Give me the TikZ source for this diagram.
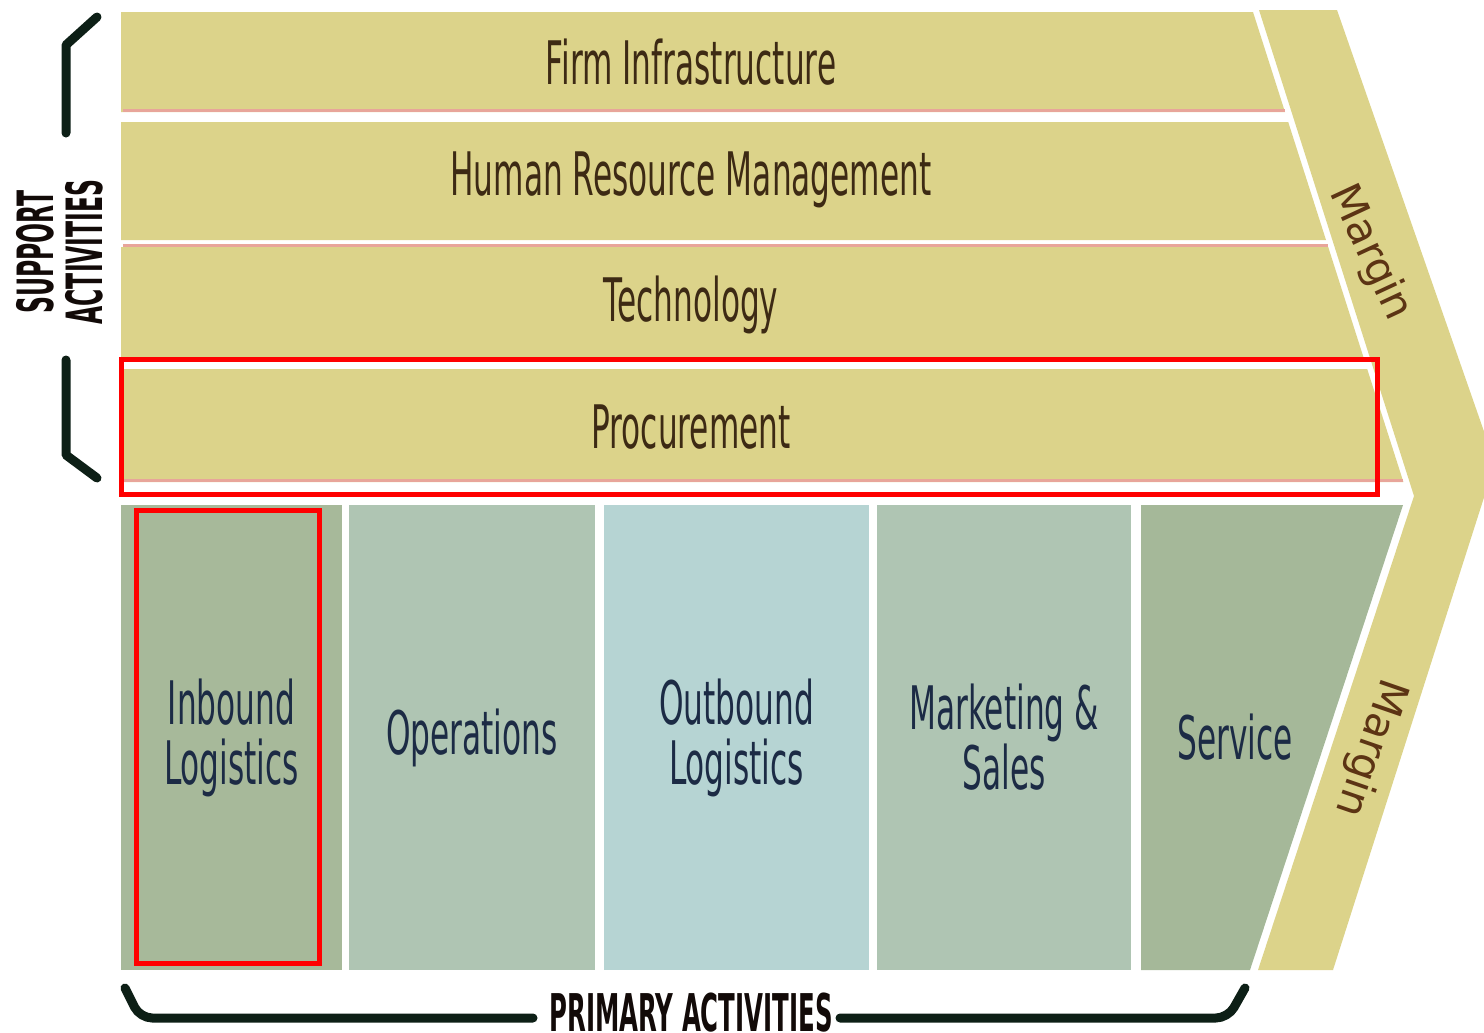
\documentclass[tikz,border=0pt]{standalone}
\usepackage{fontspec}
\setmainfont{DejaVu Sans}
\newfontfamily\condfont[FakeStretch=0.52]{DejaVu Sans}
\newfontfamily\headfont[FakeStretch=0.47]{DejaVu Sans}

\definecolor{barfill}{HTML}{DCD38A}
\definecolor{barline}{HTML}{E8A59A}
\definecolor{inbfill}{HTML}{A7B99A}
\definecolor{opfill}{HTML}{AFC5B3}
\definecolor{outfill}{HTML}{B6D4D3}
\definecolor{mktfill}{HTML}{AFC5B3}
\definecolor{svcfill}{HTML}{A5B899}
\definecolor{bartext}{HTML}{3D2A14}
\definecolor{primtext}{HTML}{1C2B45}
\definecolor{margintext}{HTML}{5C3414}
\definecolor{headink}{HTML}{120A08}
\definecolor{braceink}{HTML}{0D1F16}

\tikzset{
    suplabel/.style={anchor=base, inner sep=0pt, text=bartext,
        font=\condfont\fontsize{30}{30}\selectfont},
    primbox/.style={rectangle, inner sep=0pt, minimum height=232.5pt,
        align=center, text=primtext, font=\condfont\fontsize{30}{30}\selectfont},
    marginlabel/.style={inner sep=0pt, text=margintext,
        font=\fontsize{21}{21}\selectfont},
    headlabel/.style={inner sep=0pt, text=headink, align=center,
        font=\headfont\bfseries\fontsize{25}{24.5}\selectfont},
    bracket/.style={draw=braceink, line width=4.5pt, line cap=round, line join=round},
    hilite/.style={draw=red, line width=2.5pt},
}

\begin{document}
\begin{tikzpicture}[x=0.5pt, y=-0.5pt]
    \useasboundingbox (0,0) rectangle (1484,1033);

    \fill[barfill] (121,12) -- (1253,12) -- (1285,112) -- (121,112) -- cycle;
    \fill[barfill] (121,122) -- (1288.2,122) -- (1326,240) -- (121,240) -- cycle;
    \fill[barfill] (121,247) -- (1328.2,247) -- (1363.4,357) -- (121,357) -- cycle;
    \fill[barfill] (121,369) -- (1367.2,369) -- (1403.4,482) -- (121,482) -- cycle;
    \draw[barline, line width=1.5pt] (123,110.5) -- (1284.5,110.5);
    \draw[barline, line width=1.5pt] (123,245.5) -- (1327.5,245.5);
    \draw[barline, line width=1.5pt] (123,480.5) -- (1402.5,480.5);

    \fill[barfill] (1259,10) -- (1337,10) -- (1495,463) -- (1333,970)
        -- (1258,970) -- (1414,496) -- cycle;

    \node[suplabel] (firm) at (691,84) {Firm Infrastructure};
    \node[suplabel] (hrm) at (691,195) {Human Resource Management};
    \node[suplabel] (tech) at (691,321) {Technology};
    \node[suplabel] (proc) at (691,448) {Procurement};

    \node[primbox, fill=inbfill, minimum width=110.5pt] (inbound) at (231.5,737.5) {Inbound\\Logistics};
    \node[primbox, fill=opfill, minimum width=123pt] (ops) at (472,737.5) {Operations};
    \node[primbox, fill=outfill, minimum width=132.5pt] (outbound) at (736.5,737.5) {Outbound\\Logistics};
    \node[primbox, fill=mktfill, minimum width=127pt] (mkt) at (1004,737.5) {Marketing \&\\Sales};
    \fill[svcfill] (1141,505) -- (1403,505) -- (1250,970) -- (1141,970) -- cycle;
    \node[primbox, minimum height=0pt] (svc) at (1235,737.5) {Service};

    \node[marginlabel, rotate=-65] (margintop) at (1370,253) {Margin};
    \node[marginlabel, rotate=-109] (marginbot) at (1370,748) {Margin};

    \draw[hilite] (121,359) rectangle (1377,494);
    \draw[hilite] (136,510) rectangle (319,963);

    \node[headlabel, rotate=90] (support) at (59.5,252) {SUPPORT\\ACTIVITIES};
    \draw[bracket] (97,17) -- (66,45) -- (66,133);
    \draw[bracket] (66,360) -- (66,455) -- (97,478);

    \node[headlabel, anchor=base, font=\headfont\bfseries\fontsize{26}{26}\selectfont] (primary) at (691,1031) {PRIMARY ACTIVITIES};
    \draw[bracket, rounded corners=6pt] (125,988) -- (140,1018) -- (533,1018);
    \draw[bracket, rounded corners=6pt] (840,1018) -- (1228,1018) -- (1245,988);
\end{tikzpicture}
\end{document}
